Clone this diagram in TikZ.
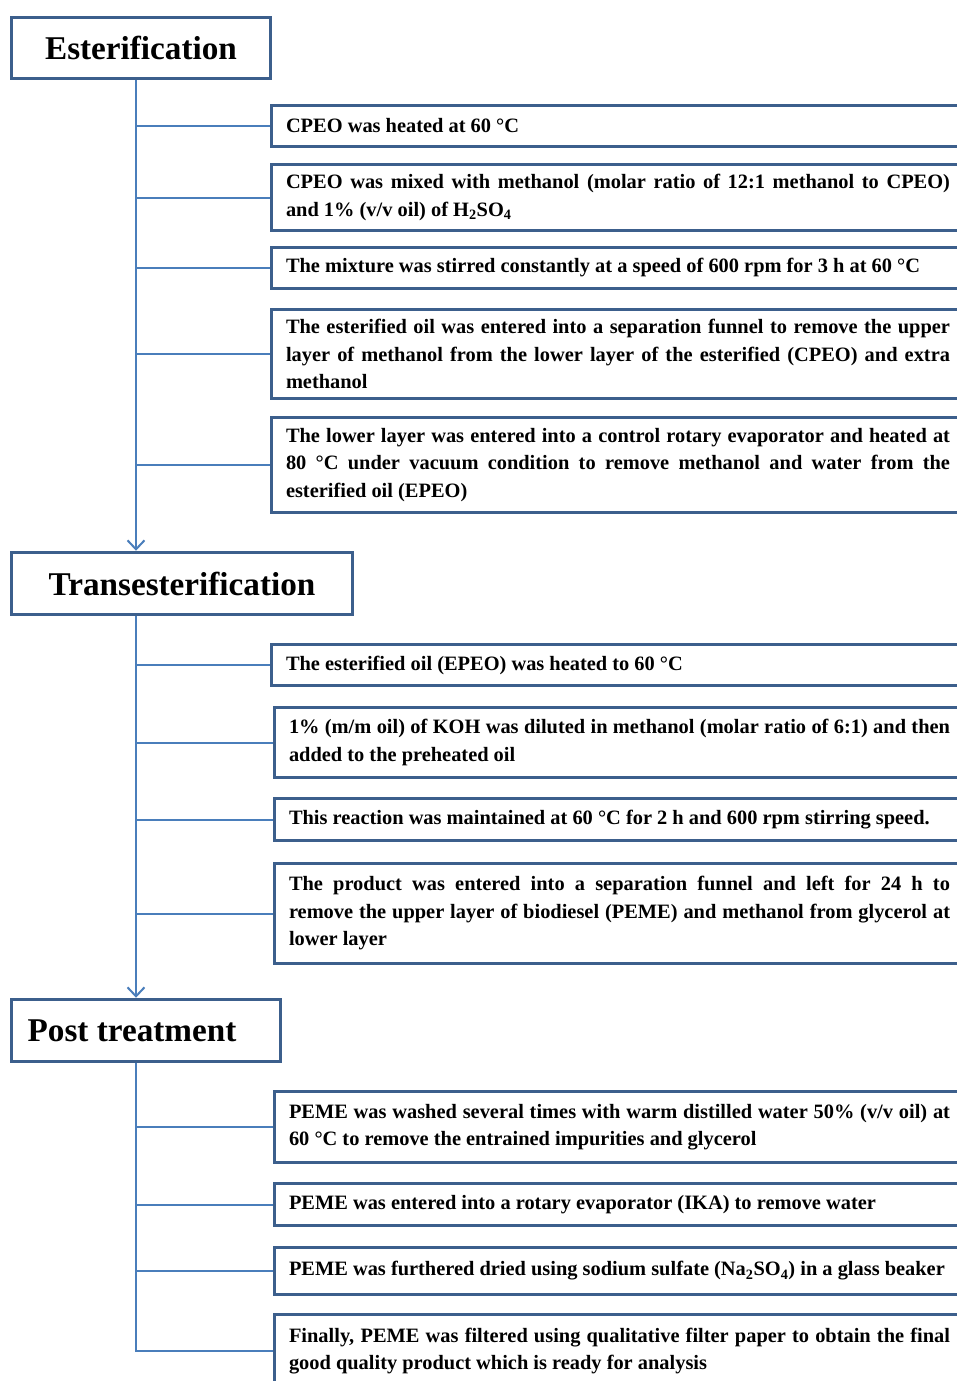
\documentclass[tikz,border=0pt]{standalone}
\usepackage{fontspec}
\setmainfont{Liberation Serif}
\usetikzlibrary{arrows.meta}
\definecolor{boxblue}{RGB}{60,95,140}
\definecolor{linkblue}{RGB}{74,126,187}
\tikzset{
  headbox/.style={draw=boxblue, line width=3.5pt, inner sep=0pt, align=center,
    font=\fontsize{33.2}{38}\selectfont\bfseries},
  stepbox/.style={draw=boxblue, line width=3pt, anchor=west, inner xsep=14.5pt, inner ysep=0pt,
    text width=#1, align=justify, font=\fontsize{20.4}{27.5}\selectfont\bfseries},
  stepbox/.default=664pt,
  link/.style={draw=linkblue, line width=2pt},
  flow/.style={link, -{Straight Barb[length=9pt,width=17pt,line width=2pt]}}
}
\begin{document}
\begin{tikzpicture}[x=1pt,y=-1pt]
\useasboundingbox (0,0) rectangle (957,1381);
\clip (0,0) rectangle (957,1381);
\fill[white] (0,0) rectangle (957,1381);
\coordinate (trunk) at (136,0);

% headers
\node[headbox, minimum width=259pt, minimum height=61pt] (H1) at (141,48) {Esterification};
\node[headbox, minimum width=341pt, minimum height=62pt] (H2) at (182,583.5) {Transesterification};
\node[headbox, minimum width=269pt, minimum height=62pt] (H3) at (146,1030.5) {Post treatment\hspace*{28pt}};

% esterification steps
\node[stepbox, minimum height=41pt] (E1) at (270,126) {CPEO was heated at 60 °C};
\node[stepbox, minimum height=66pt] (E2) at (270,197.5) {CPEO was mixed with methanol (molar ratio of 12:1 methanol to CPEO)\linebreak and 1\% (v/v oil) of H\textsubscript{2}SO\textsubscript{4}};
\node[stepbox, minimum height=41pt] (E3) at (270,268) {The mixture was stirred constantly at a speed of 600 rpm for 3 h at 60 °C};
\node[stepbox, minimum height=89pt] (E4) at (270,354) {The esterified oil was entered into a separation funnel to remove the upper\linebreak layer of methanol from the lower layer of the esterified (CPEO) and extra\linebreak methanol};
\node[stepbox, minimum height=95pt] (E5) at (270,465) {The lower layer was entered into a control rotary evaporator and heated at\linebreak 80~°C under vacuum condition to remove methanol and water from the\linebreak esterified oil (EPEO)};

% transesterification steps
\node[stepbox, minimum height=41pt] (T1) at (270,665) {The esterified oil (EPEO) was heated to 60 °C};
\node[stepbox=661pt, minimum height=70pt] (T2) at (273,742.5) {1\% (m/m oil) of KOH was diluted in methanol (molar ratio of 6:1) and then\linebreak added to the preheated oil};
\node[stepbox=661pt, minimum height=42pt] (T3) at (273,819.5) {This reaction was maintained at 60 °C for 2 h and 600 rpm stirring speed.};
\node[stepbox=661pt, minimum height=100pt] (T4) at (273,913.5) {The product was entered into a separation funnel and left for 24 h to\linebreak remove the upper layer of biodiesel (PEME) and methanol from glycerol at\linebreak lower layer};

% post treatment steps
\node[stepbox=661pt, minimum height=71pt] (P1) at (273,1127) {PEME was washed several times with warm distilled water 50\% (v/v oil) at\linebreak 60 °C to remove the entrained impurities and glycerol};
\node[stepbox=661pt, minimum height=42pt] (P2) at (273,1204.5) {PEME was entered into a rotary evaporator (IKA) to remove water};
\node[stepbox=661pt, minimum height=47pt] (P3) at (273,1271) {PEME was furthered dried using sodium sulfate (Na\textsubscript{2}SO\textsubscript{4}) in a glass beaker};
\node[stepbox=661pt, minimum height=74pt] (P4) at (273,1351) {Finally, PEME was filtered using qualitative filter paper to obtain the final\linebreak good quality product which is ready for analysis};

% trunks
\draw[flow] (trunk |- H1.south) -- (trunk |- H2.north);
\draw[flow] (trunk |- H2.south) -- (trunk |- H3.north);
\draw[link] (trunk |- H3.south) -- (trunk |- P4.west) -- (P4.west);

% branches
\foreach \n in {E1,E2,E3,E4,E5,T1,T2,T3,T4,P1,P2,P3}
  \draw[link] (trunk |- \n.west) -- (\n.west);
\end{tikzpicture}
\end{document}
